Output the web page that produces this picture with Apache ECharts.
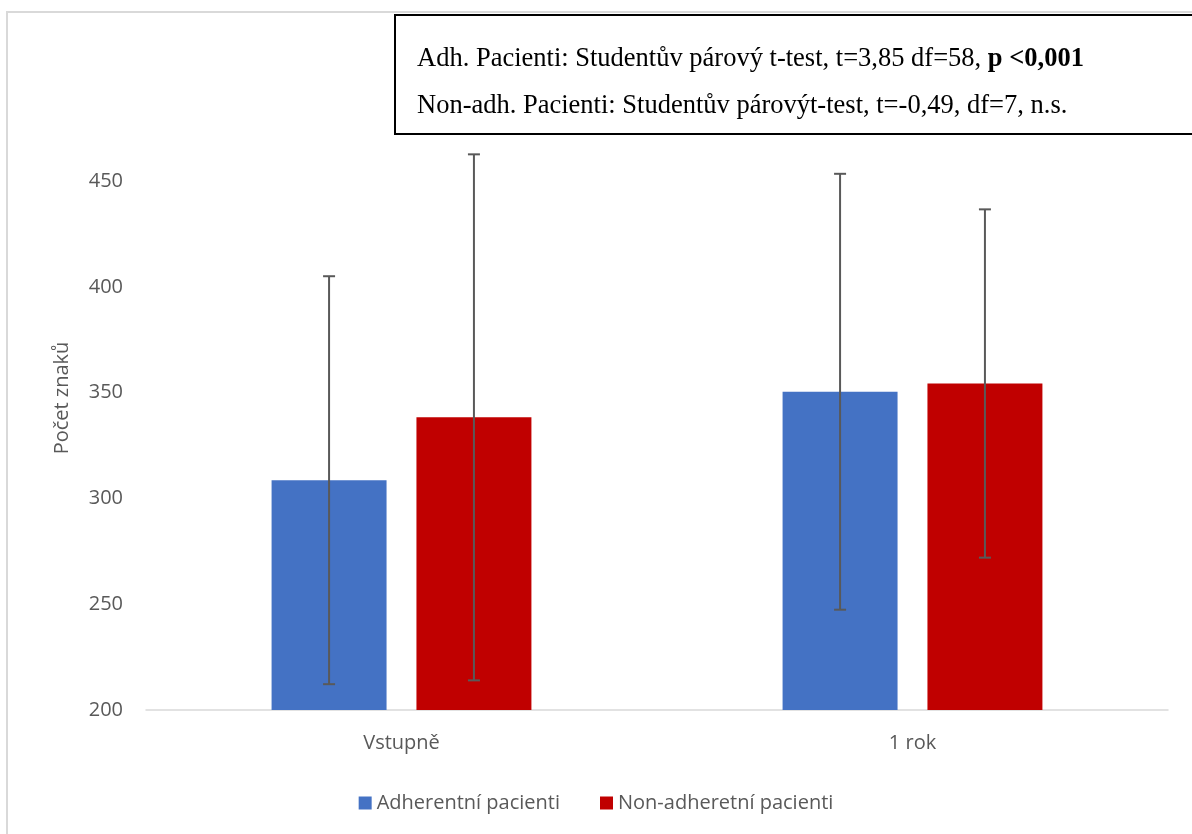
<!DOCTYPE html>
<html>
<head>
<meta charset="utf-8">
<script src="https://cdn.jsdelivr.net/npm/echarts@6/dist/echarts.min.js"></script>
<style>
html,body{margin:0;padding:0;background:#fff;}
#chart{width:1192px;height:834px;}
</style>
</head>
<body>
<div id="chart"></div>
<script>
const categories = ['Vstupně', '1 rok'];
const seriesNames = ['Adherentní pacienti', 'Non-adheretní pacienti'];
const adhMean = [308.6, 350.4];
const adhSD = [96.4, 103.0];
const nonMean = [338.3, 354.3];
const nonSD = [124.3, 82.3];
const yMin = 200, yMax = 450, yInterval = 50;
const yAxisTitle = 'Počet znaků';
const noteLine1a = 'Adh. Pacienti: Studentův párový t-test, t=3,85 df=58, ';
const noteLine1b = 'p <0,001';
const noteLine2 = 'Non-adh. Pacienti: Studentův párovýt-test, t=-0,49, df=7, n.s.';

const BAR_PCT = 0.225, BAR_GAP = 0.26;
const sans = '"Open Sans", "Noto Sans", sans-serif';
const serif = '"Liberation Serif", "Times New Roman", serif';
const grey = '#595959';
const FS = 20;

function errData(mean, sd) {
  return mean.map((m, i) => [i, m - sd[i], m + sd[i]]);
}
function errSeries(name, mean, sd, sign) {
  return {
    type: 'custom',
    name: name + ' SD',
    clip: false,
    silent: true,
    z: 5,
    data: errData(mean, sd),
    renderItem: function (params, api) {
      const band = api.size([1, 0])[0];
      const bw = band * BAR_PCT;
      const off = sign * (bw + bw * BAR_GAP) / 2;
      const pLo = api.coord([api.value(0), api.value(1)]);
      const pHi = api.coord([api.value(0), api.value(2)]);
      const cx = pLo[0] + off;
      const cap = 6;
      const st = { stroke: grey, lineWidth: 2 };
      return {
        type: 'group',
        children: [
          { type: 'line', shape: { x1: cx, y1: pLo[1], x2: cx, y2: pHi[1] }, style: st },
          { type: 'line', shape: { x1: cx - cap, y1: pLo[1], x2: cx + cap, y2: pLo[1] }, style: st },
          { type: 'line', shape: { x1: cx - cap, y1: pHi[1], x2: cx + cap, y2: pHi[1] }, style: st }
        ]
      };
    }
  };
}

const chart = echarts.init(document.getElementById('chart'));
chart.setOption({
  backgroundColor: '#fff',
  animation: false,
  grid: { left: 146, right: 24, top: 181, bottom: 124 },
  legend: {
    data: seriesNames,
    bottom: 16,
    left: 'center',
    itemWidth: 13,
    itemHeight: 13,
    itemGap: 40,
    icon: 'rect',
    textStyle: { fontFamily: sans, fontSize: FS, color: grey }
  },
  xAxis: {
    type: 'category',
    data: categories,
    axisLine: { lineStyle: { color: '#d9d9d9', width: 1.5 } },
    axisTick: { show: false },
    axisLabel: { fontFamily: sans, fontSize: FS, color: grey, margin: 23 }
  },
  yAxis: {
    type: 'value',
    min: yMin,
    max: yMax,
    interval: yInterval,
    axisLine: { show: false },
    axisTick: { show: false },
    splitLine: { show: false },
    axisLabel: { fontFamily: sans, fontSize: FS, color: grey, margin: 23 }
  },
  graphic: [
    {
      type: 'rect', z: -10, silent: true,
      shape: { x: 7, y: 12, width: 1400, height: 1000 },
      style: { fill: '#fff', stroke: '#d9d9d9', lineWidth: 2 }
    },
    {
      type: 'text', silent: true,
      x: 62, y: 398, rotation: Math.PI / 2,
      style: {
        text: yAxisTitle, fontFamily: sans, fontSize: FS, fill: grey,
        align: 'center', verticalAlign: 'middle'
      }
    },
    {
      type: 'group', z: 20,
      children: [
        {
          type: 'rect', silent: true,
          shape: { x: 395, y: 15, width: 900, height: 119 },
          style: { fill: '#fff', stroke: '#000', lineWidth: 2 }
        },
        {
          type: 'text', silent: true,
          x: 417, y: 36,
          style: {
            text: '{n|' + noteLine1a + '}{b|' + noteLine1b + '}\n{n|' + noteLine2 + '}',
            rich: {
              n: { fontFamily: serif, fontSize: 26.5, fill: '#000', lineHeight: 47 },
              b: { fontFamily: serif, fontSize: 26.5, fontWeight: 'bold', fill: '#000', lineHeight: 47 }
            }
          }
        }
      ]
    }
  ],
  series: [
    {
      name: seriesNames[0], type: 'bar', data: adhMean,
      barWidth: (BAR_PCT * 100) + '%', barGap: (BAR_GAP * 100) + '%',
      itemStyle: { color: '#4472C4' }
    },
    {
      name: seriesNames[1], type: 'bar', data: nonMean,
      barWidth: (BAR_PCT * 100) + '%', barGap: (BAR_GAP * 100) + '%',
      itemStyle: { color: '#C00000' }
    },
    errSeries(seriesNames[0], adhMean, adhSD, -1),
    errSeries(seriesNames[1], nonMean, nonSD, 1)
  ]
});
</script>
</body>
</html>
